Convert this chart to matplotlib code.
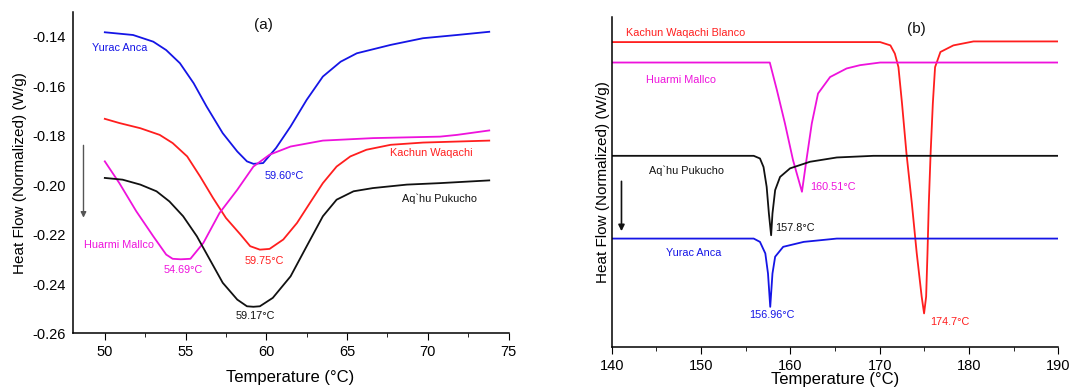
import matplotlib
matplotlib.use("Agg")
import matplotlib.pyplot as plt
from matplotlib.ticker import MultipleLocator

plt.rcParams['font.family'] = ['Liberation Sans', 'DejaVu Sans']

# ---------------- Panel (a) data ----------------
yurac_a_T = [50.0, 51.75, 53.0, 53.8, 54.65, 55.5, 56.3, 57.3, 58.2, 58.8, 59.2, 59.8, 60.6, 61.5, 62.5, 63.5, 64.6, 65.6, 67.7, 69.7, 71.8, 73.8]
yurac_a_H = [-0.1382, -0.1393, -0.1420, -0.1454, -0.1507, -0.1588, -0.1682, -0.1790, -0.1864, -0.1904, -0.1914, -0.1911, -0.1850, -0.1763, -0.1655, -0.1561, -0.1501, -0.1467, -0.1433, -0.1406, -0.1393, -0.1380]

kachun_a_T = [50.0, 50.9, 52.2, 53.4, 54.2, 55.1, 55.9, 56.7, 57.5, 58.4, 59.0, 59.6, 60.2, 61.05, 61.9, 62.7, 63.5, 64.35, 65.2, 66.2, 67.7, 69.7, 73.8]
kachun_a_H = [-0.1732, -0.1749, -0.1770, -0.1797, -0.1830, -0.1884, -0.1965, -0.2052, -0.2133, -0.2200, -0.2247, -0.2261, -0.2258, -0.2220, -0.2153, -0.2072, -0.1992, -0.1925, -0.1884, -0.1857, -0.1837, -0.1828, -0.1820]

huarmi_a_T = [50.0, 50.9, 51.95, 53.0, 53.8, 54.2, 54.7, 55.3, 56.1, 57.1, 58.2, 59.2, 60.2, 61.5, 63.5, 66.6, 70.75, 71.8, 73.8]
huarmi_a_H = [-0.1904, -0.1992, -0.2106, -0.2207, -0.2281, -0.2298, -0.2300, -0.2298, -0.2234, -0.2113, -0.2019, -0.1925, -0.1877, -0.1844, -0.1820, -0.1810, -0.1804, -0.1797, -0.1779]

aqhu_a_T = [50.0, 51.1, 52.2, 53.2, 54.0, 54.85, 55.7, 56.5, 57.3, 58.2, 58.8, 59.2, 59.6, 60.4, 61.5, 62.5, 63.5, 64.35, 65.4, 66.6, 68.7, 70.75, 73.8]
aqhu_a_H = [-0.1971, -0.1978, -0.1998, -0.2025, -0.2066, -0.2126, -0.2207, -0.2301, -0.2395, -0.2463, -0.2490, -0.2492, -0.2490, -0.2456, -0.2369, -0.2247, -0.2126, -0.2059, -0.2025, -0.2012, -0.1998, -0.1992, -0.1981]

# ---------------- Panel (b) data (arbitrary units) ----------------
kachun_b_T = [140, 170.05, 171.2, 171.7, 172.1, 172.5, 173.0, 173.6, 174.15, 174.7, 174.97, 175.2, 175.35, 175.5, 175.7, 175.95, 176.2, 176.8, 178.25, 180.5, 183.5, 190]
kachun_b_H = [9.24, 9.24, 9.14, 8.89, 8.48, 7.38, 5.86, 4.35, 2.83, 1.52, 1.01, 1.52, 2.83, 4.35, 5.86, 7.38, 8.48, 8.94, 9.14, 9.26, 9.26, 9.26]

huarmi_b_T = [140, 157.7, 158.5, 159.4, 160.3, 161.3, 161.8, 162.4, 163.1, 164.45, 166.3, 167.8, 170.05, 190]
huarmi_b_H = [8.62, 8.62, 7.78, 6.77, 5.66, 4.70, 5.66, 6.77, 7.68, 8.18, 8.44, 8.54, 8.62, 8.62]

aqhu_b_T = [140, 155.9, 156.6, 157.0, 157.35, 157.6, 157.85, 158.0, 158.3, 158.85, 159.97, 162.2, 165.2, 169.3, 190]
aqhu_b_H = [5.79, 5.79, 5.71, 5.45, 4.85, 4.04, 3.38, 4.04, 4.75, 5.15, 5.41, 5.61, 5.74, 5.79, 5.79]

yurac_b_T = [140, 155.9, 156.6, 157.2, 157.5, 157.75, 158.0, 158.3, 159.2, 161.5, 165.2, 190]
yurac_b_H = [3.28, 3.28, 3.18, 2.83, 2.22, 1.21, 2.22, 2.73, 3.03, 3.18, 3.28, 3.28]

BLUE = '#1515e6'
RED = '#ff1e1e'
MAG = '#ee12dc'
BLACK = '#111111'

fig = plt.figure(figsize=(10.71, 3.87), dpi=100)
axa = fig.add_axes([0.0677, 0.1383, 0.4749 - 0.0677, 0.969 - 0.1383])
axb = fig.add_axes([0.5711, 0.1041, 0.9882 - 0.5711, 0.956 - 0.1041])

lw = 1.3
axa.plot(yurac_a_T, yurac_a_H, color=BLUE, lw=lw)
axa.plot(kachun_a_T, kachun_a_H, color=RED, lw=lw)
axa.plot(huarmi_a_T, huarmi_a_H, color=MAG, lw=lw)
axa.plot(aqhu_a_T, aqhu_a_H, color=BLACK, lw=lw)

axa.set_xlim(48, 75)
axa.set_ylim(-0.26, -0.13)
axa.set_yticks([-0.26, -0.24, -0.22, -0.20, -0.18, -0.16, -0.14])
axa.set_yticklabels(['-0.26', '-0.24', '-0.22', '-0.20', '-0.18', '-0.16', '-0.14'])
axa.xaxis.set_major_locator(MultipleLocator(5))
axa.xaxis.set_minor_locator(MultipleLocator(2.5))

fs = 7.8
axa.text(49.18, -0.1447, 'Yurac Anca', color=BLUE, fontsize=fs, va='center', ha='left')
axa.text(67.66, -0.1871, 'Kachun Waqachi', color=RED, fontsize=fs, va='center', ha='left')
axa.text(59.9, -0.1965, '59.60°C', color=BLUE, fontsize=fs, va='center', ha='left')
axa.text(68.38, -0.2055, 'Aq`hu Pukucho', color=BLACK, fontsize=fs, va='center', ha='left')
axa.text(48.72, -0.2241, 'Huarmi Mallco', color=MAG, fontsize=fs, va='center', ha='left')
axa.text(54.85, -0.2344, '54.69°C', color=MAG, fontsize=fs, va='center', ha='center')
axa.text(59.88, -0.2308, '59.75°C', color=RED, fontsize=fs, va='center', ha='center')
axa.text(59.3, -0.2530, '59.17°C', color=BLACK, fontsize=fs, va='center', ha='center')
axa.text(59.8, -0.1353, '(a)', color=BLACK, fontsize=11, va='center', ha='center')
axa.annotate('', xy=(48.68, -0.2143), xytext=(48.68, -0.1828),
             arrowprops=dict(arrowstyle='-|>', color='#555555', lw=1.0, mutation_scale=8))

axa.set_xlabel('Temperature (°C)', fontsize=12, labelpad=8)
axa.set_ylabel('Heat Flow (Normalized) (W/g)', fontsize=11)

axb.plot(kachun_b_T, kachun_b_H, color=RED, lw=lw)
axb.plot(huarmi_b_T, huarmi_b_H, color=MAG, lw=lw)
axb.plot(aqhu_b_T, aqhu_b_H, color=BLACK, lw=lw)
axb.plot(yurac_b_T, yurac_b_H, color=BLUE, lw=lw)

axb.set_xlim(140, 190)
axb.set_ylim(0, 10)
axb.set_yticks([])
axb.xaxis.set_major_locator(MultipleLocator(10))
axb.xaxis.set_minor_locator(MultipleLocator(5))

axb.text(174.15, 9.65, '(b)', color=BLACK, fontsize=11, va='center', ha='center')
axb.text(141.65, 9.52, 'Kachun Waqachi Blanco', color=RED, fontsize=fs, va='center', ha='left')
axb.text(143.8, 8.09, 'Huarmi Mallco', color=MAG, fontsize=fs, va='center', ha='left')
axb.text(144.2, 5.35, 'Aq`hu Pukucho', color=BLACK, fontsize=fs, va='center', ha='left')
axb.text(162.2, 4.85, '160.51°C', color=MAG, fontsize=fs, va='center', ha='left')
axb.text(158.3, 3.59, '157.8°C', color=BLACK, fontsize=fs, va='center', ha='left')
axb.text(146.1, 2.83, 'Yurac Anca', color=BLUE, fontsize=fs, va='center', ha='left')
axb.text(157.9, 0.96, '156.96°C', color=BLUE, fontsize=fs, va='center', ha='center')
axb.text(175.65, 0.76, '174.7°C', color=RED, fontsize=fs, va='center', ha='left')
axb.annotate('', xy=(141.1, 3.42), xytext=(141.1, 5.10),
             arrowprops=dict(arrowstyle='-|>', color=BLACK, lw=1.2, mutation_scale=9))

axb.set_xlabel('Temperature (°C)', fontsize=12, labelpad=-0.5)
axb.set_ylabel('Heat Flow (Normalized) (W/g)', fontsize=11, labelpad=1.5)

for ax in (axa, axb):
    ax.spines['top'].set_visible(False)
    ax.spines['right'].set_visible(False)
    ax.spines['left'].set_linewidth(1.1)
    ax.spines['bottom'].set_linewidth(1.1)
    ax.tick_params(axis='x', which='major', direction='out', length=5, labelsize=10.5)
    ax.tick_params(axis='x', which='minor', direction='out', length=3)
    ax.tick_params(axis='y', which='both', length=0, labelsize=10.5, pad=5)

fig.savefig('out.png', dpi=100)
